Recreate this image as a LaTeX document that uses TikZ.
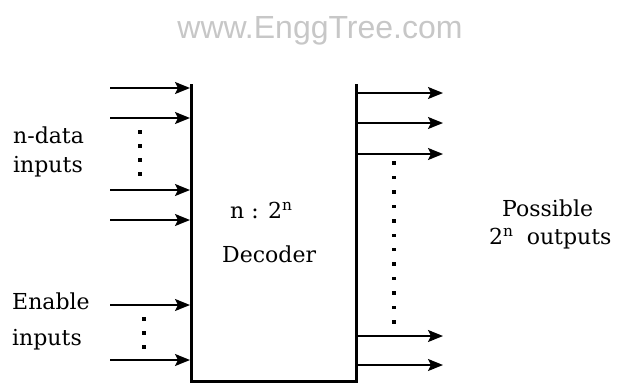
\documentclass[tikz,border=0pt]{standalone}
\usepackage{fontspec}
\setmainfont{DejaVu Serif}
\newfontfamily\wmfont{Liberation Sans}
\usetikzlibrary{arrows.meta}
\begin{document}
\begin{tikzpicture}[x=1pt,y=-1pt,
  sig/.style={line width=1.8pt,-{Stealth[length=15pt,width=12pt,inset=3pt]}},
  boxline/.style={line width=3pt},
  lbl/.style={font=\fontsize{22}{26}\selectfont, inner sep=0pt, anchor=base west},
  dotmark/.style={rectangle,fill=black,inner sep=0pt,minimum size=3.4pt},
  wm/.style={font=\wmfont\fontsize{32}{36}\selectfont, text=black!22, inner sep=0pt, anchor=base}]
\useasboundingbox (0,0) rectangle (621,386);
% watermark
\node[wm] (wmark) at (320,38) {www.EnggTree.com};
% decoder box (top open)
\coordinate (tl) at (191,84);
\coordinate (bl) at (191,381);
\coordinate (br) at (356,381);
\coordinate (tr) at (356,84);
\draw[boxline] (tl) -- (bl) -- (br) -- (tr);
% left input arrows
\foreach \n/\y in {i1/88,i2/118,i3/190,i4/220,e1/305,e2/360}{
  \coordinate (\n s) at (110,\y);
  \coordinate (\n e) at (190,\y);
  \draw[sig] (\n s) -- (\n e);
}
% output arrows
\foreach \n/\y in {o1/93,o2/123,o3/154,o4/336,o5/365}{
  \coordinate (\n s) at (356,\y);
  \coordinate (\n e) at (443,\y);
  \draw[sig] (\n s) -- (\n e);
}
% dots
\foreach \y [count=\k] in {132,146,160,174}{\node[dotmark] (dd\k) at (140,\y) {};}
\foreach \y [count=\k] in {319,333,347}{\node[dotmark] (ed\k) at (144,\y) {};}
\foreach \k in {0,...,11}{\node[dotmark] (od\k) at (394,163+14.45*\k) {};}
% labels
\node[lbl] (ndata) at (13,143) {n-data};
\node[lbl] (din) at (13,172) {inputs};
\node[lbl] (en) at (12,309) {Enable};
\node[lbl] (ein) at (12,345) {inputs};
\node[lbl] (ratio) at (230,218) {n : 2\textsuperscript{n}};
\node[lbl] (dec) at (222,262) {Decoder};
\node[lbl] (poss) at (502,216) {Possible};
\node[lbl] (outs) at (489,244) {2\textsuperscript{n}\hspace{0.6em}outputs};
\end{tikzpicture}
\end{document}
